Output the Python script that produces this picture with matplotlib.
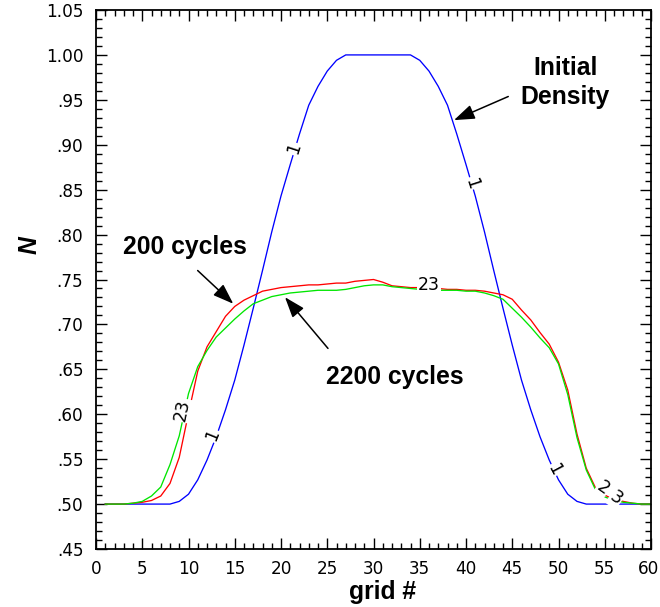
import numpy as np
import matplotlib
matplotlib.use("Agg")
import matplotlib.pyplot as plt
from matplotlib.transforms import ScaledTranslation

# ---- data ----
grid = list(range(1, 61))

initial_density = [
    0.500, 0.500, 0.500, 0.500, 0.500, 0.500, 0.500, 0.500, 0.503, 0.511,
    0.527, 0.549, 0.575, 0.605, 0.638, 0.677, 0.718, 0.760, 0.803, 0.843,
    0.878, 0.912, 0.944, 0.965, 0.982, 0.994, 1.000, 1.000, 1.000, 1.000,
    1.000, 1.000, 1.000, 1.000, 0.994, 0.982, 0.965, 0.944, 0.912, 0.878,
    0.843, 0.803, 0.760, 0.718, 0.677, 0.638, 0.605, 0.575, 0.549, 0.527,
    0.511, 0.503, 0.500, 0.500, 0.500, 0.500, 0.500, 0.500, 0.500, 0.500,
]

cycles_200 = [
    0.500, 0.500, 0.500, 0.501, 0.502, 0.504, 0.509, 0.523, 0.552, 0.601,
    0.648, 0.675, 0.692, 0.709, 0.720, 0.727, 0.732, 0.737, 0.739, 0.741,
    0.742, 0.743, 0.744, 0.744, 0.745, 0.746, 0.746, 0.748, 0.749, 0.750,
    0.747, 0.743, 0.742, 0.741, 0.741, 0.740, 0.740, 0.739, 0.739, 0.738,
    0.738, 0.737, 0.735, 0.733, 0.728, 0.716, 0.705, 0.691, 0.678, 0.658,
    0.627, 0.578, 0.540, 0.518, 0.510, 0.505, 0.503, 0.501, 0.500, 0.500,
]

cycles_2200 = [
    0.500, 0.500, 0.500, 0.501, 0.503, 0.509, 0.519, 0.544, 0.576, 0.623,
    0.653, 0.671, 0.686, 0.696, 0.706, 0.715, 0.723, 0.727, 0.731, 0.733,
    0.735, 0.736, 0.737, 0.738, 0.738, 0.738, 0.739, 0.741, 0.743, 0.744,
    0.744, 0.742, 0.741, 0.740, 0.739, 0.739, 0.738, 0.738, 0.738, 0.737,
    0.737, 0.735, 0.732, 0.728, 0.718, 0.708, 0.697, 0.685, 0.674, 0.656,
    0.622, 0.574, 0.538, 0.516, 0.508, 0.504, 0.502, 0.501, 0.500, 0.500,
]

x_ticks = [0, 5, 10, 15, 20, 25, 30, 35, 40, 45, 50, 55, 60]
y_ticks = [0.45, 0.50, 0.55, 0.60, 0.65, 0.70, 0.75, 0.80, 0.85, 0.90, 0.95, 1.00, 1.05]
y_tick_labels = [".45", ".50", ".55", ".60", ".65", ".70", ".75", ".80", ".85",
                 ".90", ".95", "1.00", "1.05"]

# ---- figure ----
fig = plt.figure(figsize=(6.6, 6.07), dpi=100)
ax = fig.add_axes([96/660, 58/607, 555/660, 539/607])

lw = 0.95
ax.plot(grid, initial_density, color=(0, 0, 1), lw=lw, zorder=2)
ax.plot(grid, cycles_200, color=(1, 0, 0), lw=lw, zorder=2)
ax.plot(grid, cycles_2200, color=(0, 0.9, 0), lw=lw, zorder=2)

ax.set_xlim(0, 60)
ax.set_ylim(0.45, 1.05)
ax.set_xticks(x_ticks)
ax.set_xticks(np.arange(0, 61, 1), minor=True)
ax.set_yticks(y_ticks)
ax.set_yticklabels(y_tick_labels)
ax.set_yticks(np.arange(0.45, 1.0501, 0.01), minor=True)

ax.tick_params(which="both", direction="in", top=True, right=True, width=1.0,
               labelsize=12.2, colors="black")
ax.tick_params(which="major", length=8)
ax.tick_params(which="minor", length=4.5)
ax.tick_params(axis="y", pad=9)
ax.tick_params(axis="x", pad=8)
for s in ax.spines.values():
    s.set_linewidth(1.3)

# nudge the last x tick label so it stays inside the picture
last = ax.get_xticklabels()[-1]
last.set_transform(last.get_transform() + ScaledTranslation(-2/100, 0, fig.dpi_scale_trans))

bold = dict(family="Liberation Sans", fontweight="bold", fontsize=17.8, color="black")

ax.set_xlabel("grid #", va="center", **bold)
ax.xaxis.set_label_coords((383 - 96) / 555, (549 - 592) / 539)
ax.set_ylabel("N", va="center", style="italic", **bold)
ax.yaxis.set_label_coords((30 - 96) / 555, (549 - 245) / 539)

# ---- line labels (Tecplot style, with gaps) ----
gx = np.array(grid, dtype=float)
lab = dict(fontsize=12.5, color="black", ha="center", va="center", zorder=3,
           bbox=dict(boxstyle="square,pad=0.05", fc="white", ec="none"))

def on(series, xv, dy=0.0):
    return xv, float(np.interp(xv, gx, np.array(series))) + dy

ax.text(*on(initial_density, 12.6, 0.012), "1", rotation=68, **lab)
ax.text(*on(initial_density, 21.4, 0.004), "1", rotation=72, **lab)
ax.text(*on(initial_density, 40.6), "1", rotation=-72, **lab)
ax.text(*on(initial_density, 49.5), "1", rotation=-62, **lab)
ax.text(*on(cycles_2200, 9.35, 0.012), "23", rotation=78, **lab)
ax.text(*on(cycles_200, 36.0, 0.004), "23", rotation=0, **lab)
ax.text(*on(cycles_200, 54.8, 0.006), "2", rotation=-35, **lab)
ax.text(*on(cycles_2200, 56.2, 0.003), "3", rotation=-35, **lab)

# ---- annotations ----
arrow = dict(arrowstyle="-|>,head_length=0.7,head_width=0.25", color="black",
             lw=1.1, mutation_scale=18, shrinkA=0, shrinkB=0)

ax.text(50.73, 0.9778, "Initial", ha="center", va="baseline", **bold)
ax.text(50.73, 0.9459, "Density", ha="center", va="baseline", **bold)
ax.annotate("", xy=(38.70, 0.9274), xytext=(44.57, 0.9537), arrowprops=arrow)

ax.text(9.65, 0.7789, "200 cycles", ha="center", va="baseline", **bold)
ax.annotate("", xy=(14.84, 0.7230), xytext=(10.99, 0.7600), arrowprops=arrow)

ax.text(32.3, 0.6333, "2200 cycles", ha="center", va="baseline", **bold)
ax.annotate("", xy=(20.43, 0.7303), xytext=(25.08, 0.6733), arrowprops=arrow)

fig.savefig("out.png", dpi=100)
